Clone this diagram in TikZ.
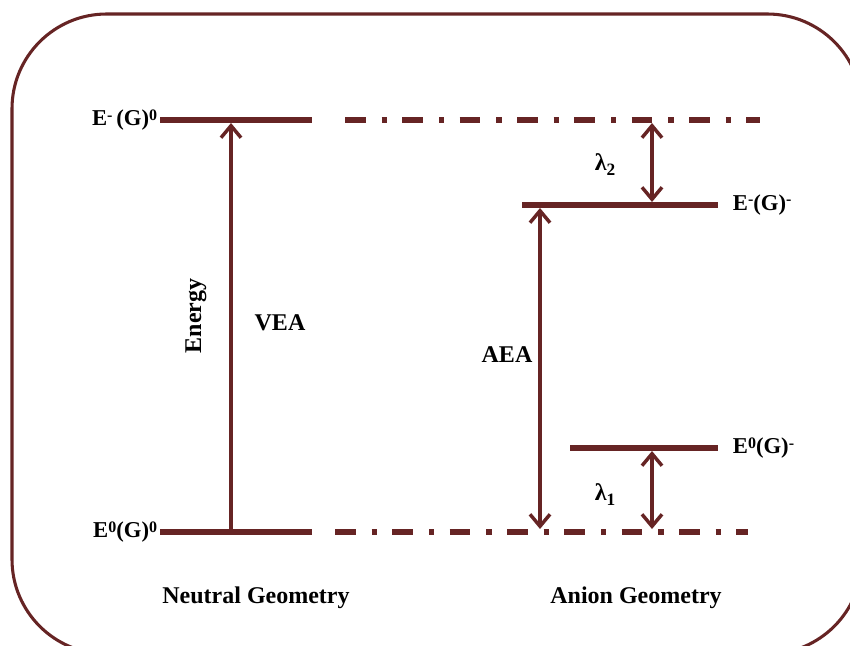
\documentclass[tikz,border=0pt]{standalone}
\usepackage{fontspec}
\setmainfont{Liberation Serif}
\usetikzlibrary{arrows.meta}
\definecolor{maroon}{RGB}{102,36,36}
\newcommand{\sups}[1]{\raisebox{0.55ex}{\fontsize{12}{12}\selectfont #1}}
\newcommand{\subs}[1]{\raisebox{-0.45ex}{\fontsize{13}{13}\selectfont #1}}

\begin{document}
\begin{tikzpicture}[
    x=0.75pt, y=-0.75pt,
    level/.style={draw=maroon, line width=3.8pt},
    ghost level/.style={draw=maroon, line width=3.8pt, dash pattern=on 15.5pt off 12pt on 4pt off 11.5pt},
    gap arrow/.style={draw=maroon, line width=2.6pt},
    state/.style={font=\bfseries\fontsize{17}{19}\selectfont, inner sep=2pt},
    caption/.style={font=\bfseries\fontsize{18}{20}\selectfont},
    >={Straight Barb[length=9pt, width=15pt]}
]
\useasboundingbox (0,0) rectangle (850,646);
\clip (0,0) rectangle (850,646);

% Frame
\draw[maroon, line width=2.3pt, rounded corners=71pt] (12,14) rectangle (862,654);

% Neutral geometry levels
\coordinate (N1a) at (160,120); \coordinate (N1b) at (312,120);
\coordinate (N0a) at (160,532); \coordinate (N0b) at (312,532);
\draw[level] (N1a) -- (N1b);
\draw[level] (N0a) -- (N0b);

% Anion geometry levels
\coordinate (A1a) at (522,205); \coordinate (A1b) at (718,205);
\coordinate (A0a) at (570,448); \coordinate (A0b) at (718,448);
\draw[level] (A1a) -- (A1b);
\draw[level] (A0a) -- (A0b);

% Dash-dot guides
\coordinate (D1a) at (345,120); \coordinate (D1b) at (760,120);
\coordinate (D0a) at (335,532); \coordinate (D0b) at (748,532);
\draw[ghost level] (D1a) -- (D1b);
\draw[ghost level] (D0a) -- (D0b);

% Arrows
\coordinate (VEA-b) at (231,530); \coordinate (VEA-t) at (231,123);
\coordinate (AEA-t) at (540,208); \coordinate (AEA-b) at (540,529);
\coordinate (L2-t) at (652,123);  \coordinate (L2-b) at (652,202);
\coordinate (L1-t) at (652,451);  \coordinate (L1-b) at (652,529);
\draw[gap arrow, ->] (VEA-b) -- (VEA-t);
\draw[gap arrow, <->] (AEA-t) -- (AEA-b);
\draw[gap arrow, <->] (L2-t) -- (L2-b);
\draw[gap arrow, <->] (L1-t) -- (L1-b);

% State labels
\node[state, anchor=east] (sN1) at (N1a) {E\sups{-}\,(G)\sups{0}};
\node[state, anchor=east] (sN0) at (N0a) {E\sups{0}(G)\sups{0}};
\node[state, anchor=west] (sA1) at ([xshift=9pt]A1b) {E\sups{-}(G)\sups{-}};
\node[state, anchor=west] (sA0) at ([xshift=9pt]A0b) {E\sups{0}(G)\sups{-}};

% Gap labels
\node[caption, rotate=90] (energy) at (196,316) {Energy};
\node[caption] (vea) at (280,323) {VEA};
\node[caption] (aea) at (507,355) {AEA};
\node[caption] (lam2) at (605,165) {λ\subs{2}};
\node[caption] (lam1) at (605,495) {λ\subs{1}};

% Geometry captions
\node[caption] (neutral) at (256,598) {Neutral Geometry};
\node[caption] (anion) at (636,598) {Anion Geometry};

\end{tikzpicture}
\end{document}
